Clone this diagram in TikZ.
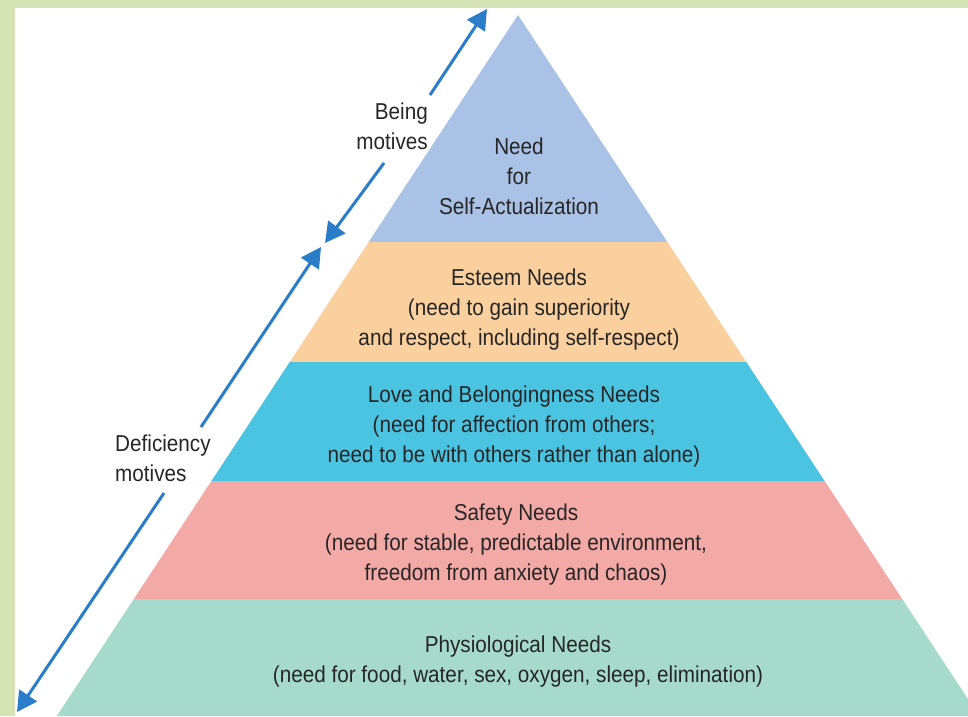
\documentclass[tikz,border=0pt]{standalone}
\usepackage{fontspec}
\setmainfont[FakeStretch=0.9]{Liberation Sans}
\usetikzlibrary{arrows.meta}
\definecolor{bggreen}{HTML}{D6E4B5}
\definecolor{lvlA}{HTML}{A9C2E5}
\definecolor{lvlB}{HTML}{FBD09F}
\definecolor{lvlC}{HTML}{4BC4E2}
\definecolor{lvlD}{HTML}{F3A9A6}
\definecolor{lvlE}{HTML}{A6DBCB}
\definecolor{arrblue}{HTML}{2A7DC8}
\definecolor{txt}{HTML}{262626}
\begin{document}
\begin{tikzpicture}[x=1pt,y=-1pt,
  lbl/.style={text=txt,inner sep=0pt,font=\fontsize{23}{30}\selectfont},
  levellbl/.style={lbl,align=center},
  motarrow/.style={draw=arrblue,line width=3pt,-{Triangle[length=20pt,width=21pt]}}]
\useasboundingbox (0,0) rectangle (968,716);
\fill[bggreen] (0,0) rectangle (968,716);
\fill[white] (15,8) rectangle (968,716);
\begin{scope}
\clip (15,8) rectangle (968,716);
% pyramid: apex (518,15), half-slope 0.658
\fill[lvlA] (518,15) -- (667.4,242) -- (368.6,242) -- cycle;
\fill[lvlB] (368.6,242) -- (667.4,242) -- (746.3,362) -- (289.7,362) -- cycle;
\fill[lvlC] (289.7,362) -- (746.3,362) -- (824.6,481) -- (211.4,481) -- cycle;
\fill[lvlD] (211.4,481) -- (824.6,481) -- (902.2,599) -- (133.8,599) -- cycle;
\fill[lvlE] (133.8,599) -- (902.2,599) -- (979.2,716) -- (56.8,716) -- cycle;
\end{scope}
% level labels
\node[levellbl] (self) at (519,176) {Need\\for\\Self-Actualization};
\node[levellbl] (esteem) at (519,310) {Esteem Needs\\(need to gain superiority\\and respect, including self-respect)};
\node[levellbl] (love) at (514,427) {Love and Belongingness Needs\\(need for affection from others;\\need to be with others rather than alone)};
\node[levellbl] (safety) at (516,545) {Safety Needs\\(need for stable, predictable environment,\\freedom from anxiety and chaos)};
\node[levellbl] (physio) at (518,662) {Physiological Needs\\(need for food, water, sex, oxygen, sleep, elimination)};
% motive labels
\node[lbl,align=right,anchor=east] (being) at (428,126) {Being\\motives};
\node[lbl,align=left,anchor=west] (deficiency) at (115,458) {Deficiency\\motives};
% arrows
\coordinate (bTop) at (487,9);
\coordinate (bUp) at (430,95);
\coordinate (bLow) at (384,163);
\coordinate (bBot) at (325,243);
\coordinate (dTop) at (321,247);
\coordinate (dUp) at (201,427);
\coordinate (dLow) at (164,493);
\coordinate (dBot) at (17,712);
\draw[motarrow] (bUp) -- (bTop);
\draw[motarrow] (bLow) -- (bBot);
\draw[motarrow] (dUp) -- (dTop);
\draw[motarrow] (dLow) -- (dBot);
\end{tikzpicture}
\end{document}
